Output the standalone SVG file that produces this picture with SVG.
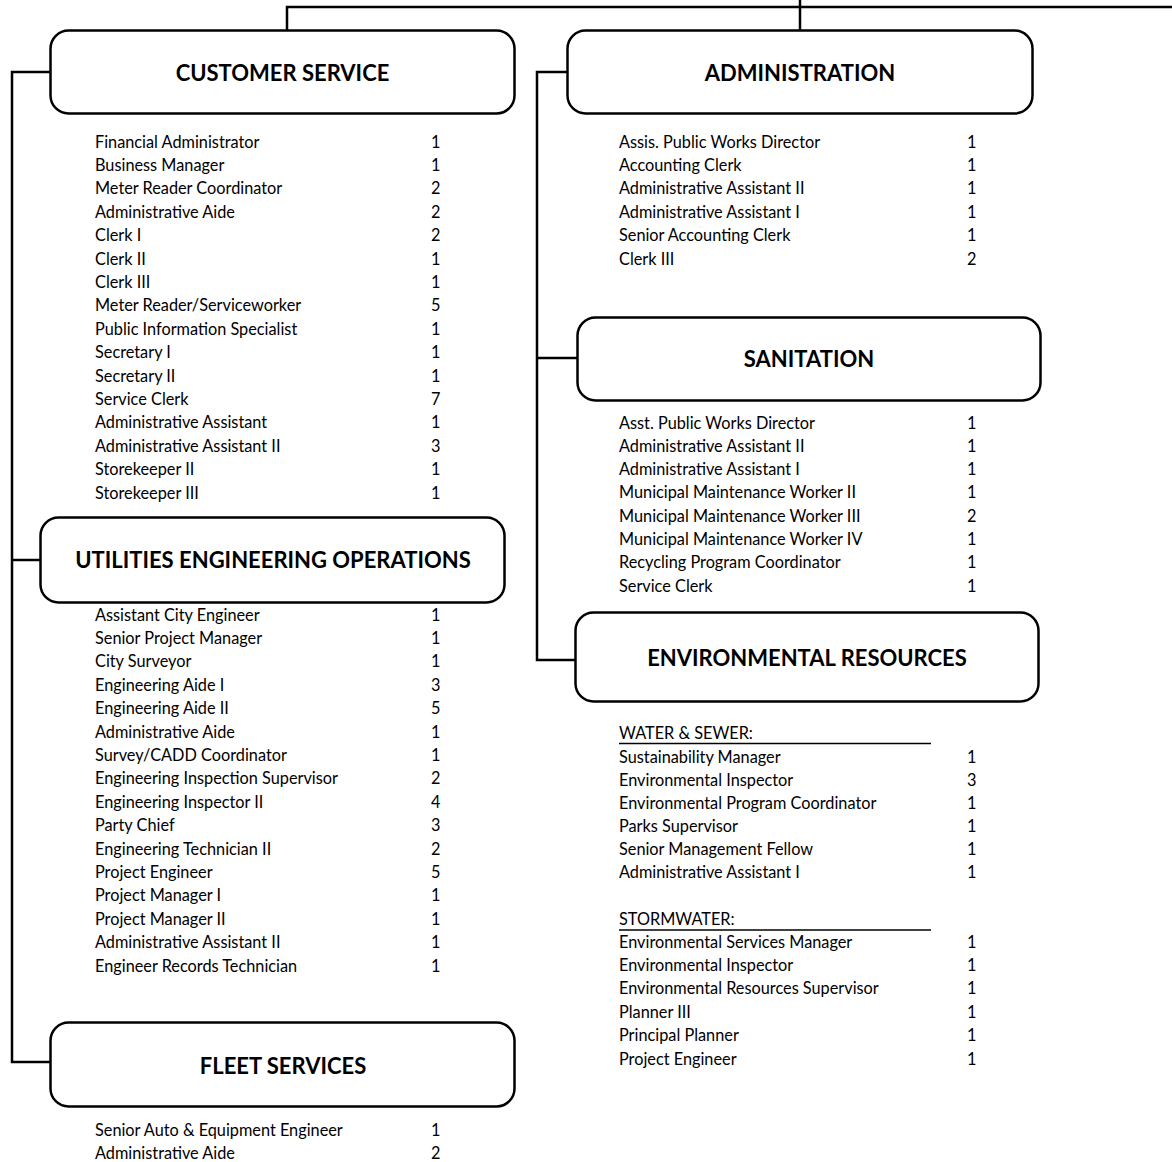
<svg xmlns="http://www.w3.org/2000/svg" width="1172" height="1162" viewBox="0 0 1172 1162">
<style>
.box{fill:#fff;stroke:#000;stroke-width:2.5}
.conn{fill:none;stroke:#000;stroke-width:2.5}
.hd{font-family:Lato,"Liberation Sans",sans-serif;font-weight:bold;font-size:22px;text-anchor:middle;fill:#000}
.it{font-family:Lato,"Liberation Sans",sans-serif;font-size:16.3px;fill:#000}
.ul{stroke:#000;stroke-width:1.5}
</style>
<rect width="1172" height="1162" fill="#fff"/>
<g id="connectors">
<path class="conn" d="M287 30 V7 H1172"/>
<path class="conn" d="M800 0 V30"/>
<path class="conn" d="M50 72 H12 V1062 H50"/>
<path class="conn" d="M12 560 H40"/>
<path class="conn" d="M567 72 H537 V660 H575"/>
<path class="conn" d="M537 358 H577"/>
</g>
<g id="customer-service">
<rect class="box" x="50.5" y="30.5" width="464" height="83" rx="18"/>
<text class="hd" x="282.5" y="81">CUSTOMER SERVICE</text>
<g class="it">
<text x="95" y="147.5">Financial Administrator</text><text x="431" y="147.5">1</text>
<text x="95" y="170.9">Business Manager</text><text x="431" y="170.9">1</text>
<text x="95" y="194.3">Meter Reader Coordinator</text><text x="431" y="194.3">2</text>
<text x="95" y="217.7">Administrative Aide</text><text x="431" y="217.7">2</text>
<text x="95" y="241.1">Clerk I</text><text x="431" y="241.1">2</text>
<text x="95" y="264.5">Clerk II</text><text x="431" y="264.5">1</text>
<text x="95" y="287.9">Clerk III</text><text x="431" y="287.9">1</text>
<text x="95" y="311.3">Meter Reader/Serviceworker</text><text x="431" y="311.3">5</text>
<text x="95" y="334.7">Public Information Specialist</text><text x="431" y="334.7">1</text>
<text x="95" y="358.1">Secretary I</text><text x="431" y="358.1">1</text>
<text x="95" y="381.5">Secretary II</text><text x="431" y="381.5">1</text>
<text x="95" y="404.9">Service Clerk</text><text x="431" y="404.9">7</text>
<text x="95" y="428.3">Administrative Assistant</text><text x="431" y="428.3">1</text>
<text x="95" y="451.7">Administrative Assistant II</text><text x="431" y="451.7">3</text>
<text x="95" y="475.1">Storekeeper II</text><text x="431" y="475.1">1</text>
<text x="95" y="498.5">Storekeeper III</text><text x="431" y="498.5">1</text>
</g>
</g>
<g id="administration">
<rect class="box" x="567.5" y="30.5" width="465" height="83" rx="18"/>
<text class="hd" x="800" y="81">ADMINISTRATION</text>
<g class="it">
<text x="619" y="147.5">Assis. Public Works Director</text><text x="967" y="147.5">1</text>
<text x="619" y="170.9">Accounting Clerk</text><text x="967" y="170.9">1</text>
<text x="619" y="194.3">Administrative Assistant II</text><text x="967" y="194.3">1</text>
<text x="619" y="217.7">Administrative Assistant I</text><text x="967" y="217.7">1</text>
<text x="619" y="241.1">Senior Accounting Clerk</text><text x="967" y="241.1">1</text>
<text x="619" y="264.5">Clerk III</text><text x="967" y="264.5">2</text>
</g>
</g>
<g id="sanitation">
<rect class="box" x="577.5" y="317.5" width="463" height="83" rx="18"/>
<text class="hd" x="809" y="367">SANITATION</text>
<g class="it">
<text x="619" y="428.5">Asst. Public Works Director</text><text x="967" y="428.5">1</text>
<text x="619" y="451.8">Administrative Assistant II</text><text x="967" y="451.8">1</text>
<text x="619" y="475.1">Administrative Assistant I</text><text x="967" y="475.1">1</text>
<text x="619" y="498.4">Municipal Maintenance Worker II</text><text x="967" y="498.4">1</text>
<text x="619" y="521.7">Municipal Maintenance Worker III</text><text x="967" y="521.7">2</text>
<text x="619" y="545">Municipal Maintenance Worker IV</text><text x="967" y="545">1</text>
<text x="619" y="568.3">Recycling Program Coordinator</text><text x="967" y="568.3">1</text>
<text x="619" y="591.6">Service Clerk</text><text x="967" y="591.6">1</text>
</g>
</g>
<g id="environmental-resources">
<rect class="box" x="575.5" y="612.5" width="463" height="89" rx="18"/>
<text class="hd" x="807" y="666">ENVIRONMENTAL RESOURCES</text>
<g class="it">
<text x="619" y="738.5">WATER &amp; SEWER:</text>
<line class="ul" x1="619" y1="743.5" x2="931" y2="743.5"/>
<text x="619" y="762.5">Sustainability Manager</text><text x="967" y="762.5">1</text>
<text x="619" y="785.5">Environmental Inspector</text><text x="967" y="785.5">3</text>
<text x="619" y="808.5">Environmental Program Coordinator</text><text x="967" y="808.5">1</text>
<text x="619" y="831.5">Parks Supervisor</text><text x="967" y="831.5">1</text>
<text x="619" y="854.5">Senior Management Fellow</text><text x="967" y="854.5">1</text>
<text x="619" y="877.5">Administrative Assistant I</text><text x="967" y="877.5">1</text>
<text x="619" y="924.5">STORMWATER:</text>
<line class="ul" x1="619" y1="930" x2="931" y2="930"/>
<text x="619" y="947.5">Environmental Services Manager</text><text x="967" y="947.5">1</text>
<text x="619" y="970.9">Environmental Inspector</text><text x="967" y="970.9">1</text>
<text x="619" y="994.3">Environmental Resources Supervisor</text><text x="967" y="994.3">1</text>
<text x="619" y="1017.7">Planner III</text><text x="967" y="1017.7">1</text>
<text x="619" y="1041.1">Principal Planner</text><text x="967" y="1041.1">1</text>
<text x="619" y="1064.5">Project Engineer</text><text x="967" y="1064.5">1</text>
</g>
</g>
<g id="utilities-engineering-operations">
<rect class="box" x="40.5" y="517.5" width="464" height="85" rx="18"/>
<text class="hd" x="273" y="568">UTILITIES ENGINEERING OPERATIONS</text>
<g class="it">
<text x="95" y="620.5">Assistant City Engineer</text><text x="431" y="620.5">1</text>
<text x="95" y="643.9">Senior Project Manager</text><text x="431" y="643.9">1</text>
<text x="95" y="667.3">City Surveyor</text><text x="431" y="667.3">1</text>
<text x="95" y="690.7">Engineering Aide I</text><text x="431" y="690.7">3</text>
<text x="95" y="714.1">Engineering Aide II</text><text x="431" y="714.1">5</text>
<text x="95" y="737.5">Administrative Aide</text><text x="431" y="737.5">1</text>
<text x="95" y="760.9">Survey/CADD Coordinator</text><text x="431" y="760.9">1</text>
<text x="95" y="784.3">Engineering Inspection Supervisor</text><text x="431" y="784.3">2</text>
<text x="95" y="807.7">Engineering Inspector II</text><text x="431" y="807.7">4</text>
<text x="95" y="831.1">Party Chief</text><text x="431" y="831.1">3</text>
<text x="95" y="854.5">Engineering Technician II</text><text x="431" y="854.5">2</text>
<text x="95" y="877.9">Project Engineer</text><text x="431" y="877.9">5</text>
<text x="95" y="901.3">Project Manager I</text><text x="431" y="901.3">1</text>
<text x="95" y="924.7">Project Manager II</text><text x="431" y="924.7">1</text>
<text x="95" y="948.1">Administrative Assistant II</text><text x="431" y="948.1">1</text>
<text x="95" y="971.5">Engineer Records Technician</text><text x="431" y="971.5">1</text>
</g>
</g>
<g id="fleet-services">
<rect class="box" x="50.5" y="1022.5" width="464" height="84" rx="18"/>
<text class="hd" x="283" y="1074">FLEET SERVICES</text>
<g class="it">
<text x="95" y="1135.5">Senior Auto &amp; Equipment Engineer</text><text x="431" y="1135.5">1</text>
<text x="95" y="1158.5">Administrative Aide</text><text x="431" y="1158.5">2</text>
</g>
</g>
</svg>
